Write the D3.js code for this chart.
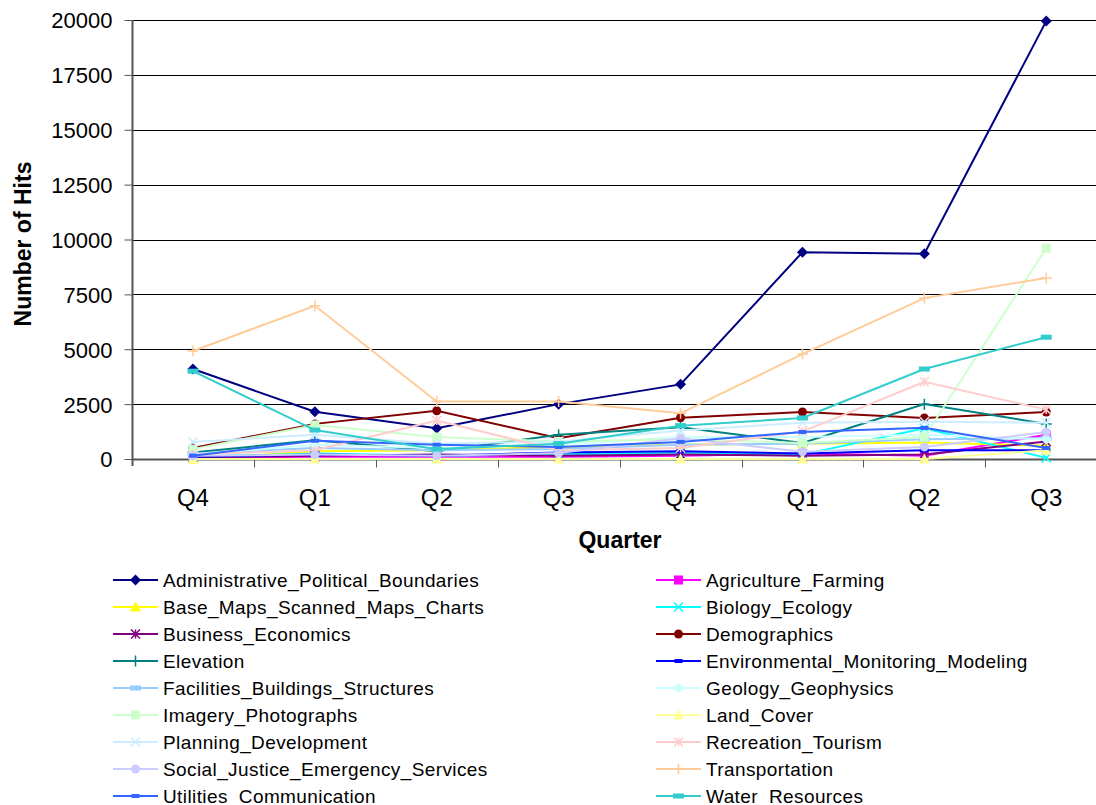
<!DOCTYPE html>
<html><head><meta charset="utf-8">
<script src="https://cdn.jsdelivr.net/npm/d3@7/dist/d3.min.js"></script>
<style>
html,body{margin:0;padding:0;background:#fff;overflow:hidden;}
svg{display:block;font-family:"Liberation Sans",Arial,sans-serif;}
</style></head>
<body>
<svg id="chart" width="1096" height="805"></svg>
<script>
const quarters = ["Q4","Q1","Q2","Q3","Q4","Q1","Q2","Q3"];
const yTicks = [0,2500,5000,7500,10000,12500,15000,17500,20000];

const seriesNames = [
  "Administrative_Political_Boundaries","Agriculture_Farming","Base_Maps_Scanned_Maps_Charts",
  "Biology_Ecology","Business_Economics","Demographics","Elevation",
  "Environmental_Monitoring_Modeling","Facilities_Buildings_Structures","Geology_Geophysics",
  "Imagery_Photographs","Land_Cover","Planning_Development","Recreation_Tourism",
  "Social_Justice_Emergency_Services","Transportation","Utilities_Communication","Water_Resources"
];

const admin         = [4100, 2150, 1400, 2500, 3400, 9420, 9350, 19950];
const agriculture   = [50, 100, 100, 100, 150, 250, 150, 1100];
const baseMaps      = [0, 350, 400, 550, 650, 700, 750, 600];
const biology       = [100, 250, 150, 200, 300, 200, 1400, 50];
const business      = [50, 150, 200, 150, 200, 150, 200, 800];
const demographics  = [500, 1600, 2200, 950, 1880, 2140, 1870, 2140];
const elevation     = [300, 850, 350, 1100, 1450, 730, 2500, 1600];
const environmental = [100, 200, 150, 300, 350, 250, 400, 400];
const facilities    = [250, 500, 400, 450, 650, 700, 900, 950];
const geology       = [200, 650, 500, 650, 1000, 1000, 1100, 900];
const imagery       = [450, 1550, 1000, 800, 900, 730, 1000, 9600];
const landCover     = [0, 0, 0, 0, 0, 0, 0, 400];
const planning      = [780, 1100, 700, 800, 1300, 1650, 1700, 1650];
const recreation    = [200, 400, 1750, 400, 500, 1250, 3520, 2250];
const social        = [150, 200, 150, 270, 950, 330, 550, 1230];
const transport     = [4920, 6980, 2620, 2620, 2080, 4780, 7330, 8250];
const utilities     = [150, 830, 650, 550, 780, 1230, 1420, 500];
const water         = [4000, 1320, 450, 700, 1520, 1870, 4100, 5550];

const seriesValues = [admin, agriculture, baseMaps, biology, business, demographics, elevation,
  environmental, facilities, geology, imagery, landCover, planning, recreation, social,
  transport, utilities, water];

const colors = ["#000080","#FF00FF","#FFFF00","#00FFFF","#800080","#800000","#008080",
  "#0000FF","#99CCFF","#CCFFFF","#CCFFCC","#FFFF99","#CCECFF","#FFCCCC","#CCCCFF",
  "#FFCC99","#3366FF","#33CCCC"];
const markers = ["diamond","square","triangle","x","star","circle","plus","dash",
  "longdash","diamond","square","triangle","x","star","circle","plus","dash","longdash"];

const svg = d3.select("#chart");
const plotLeft = 132, plotTop = 20, plotBottom = 459, bandW = 121.9;
const x = d3.scaleBand().domain(d3.range(quarters.length)).range([plotLeft, plotLeft + bandW*quarters.length]);
const y = d3.scaleLinear().domain([0,20000]).range([plotBottom, plotTop]);

// gridlines
svg.append("g").selectAll("line").data(yTicks.filter(d=>d>0)).join("line")
  .attr("x1", plotLeft).attr("x2", 1096)
  .attr("y1", d=>Math.round(y(d))+0.5).attr("y2", d=>Math.round(y(d))+0.5)
  .attr("stroke", "#000").attr("stroke-width", 1);

// y axis
const yAx = svg.append("g").attr("transform", `translate(${plotLeft+0.5},0)`)
  .call(d3.axisLeft(y).tickValues(yTicks).tickSize(8).tickPadding(6).tickFormat(d3.format("d")));
yAx.select(".domain").attr("stroke","#555").attr("stroke-width",2).attr("d", `M0,${plotTop}V${plotBottom+7}`);
yAx.selectAll(".tick line").attr("stroke","#555");
yAx.selectAll(".tick text").attr("font-size", 22).attr("fill","#000")
  .attr("font-family","'Liberation Sans',Arial,sans-serif").attr("x", -20).attr("dy","0.36em");

// x axis
const xAx = svg.append("g").attr("transform", `translate(0,${plotBottom+0.5})`);
xAx.append("line").attr("x1", plotLeft).attr("x2", 1096).attr("stroke","#555").attr("stroke-width",2);
xAx.selectAll("line.tk").data(d3.range(1, quarters.length)).join("line").attr("class","tk")
  .attr("x1", i=>Math.round(x(i))+0.5).attr("x2", i=>Math.round(x(i))+0.5)
  .attr("y1", 0).attr("y2", 8).attr("stroke","#555");
xAx.selectAll("text").data(quarters).join("text")
  .attr("x", (d,i)=>x(i)+x.bandwidth()/2).attr("y", 46)
  .attr("text-anchor","middle").attr("font-size", 24).text(d=>d);

// axis titles
svg.append("text").attr("x", 620).attr("y", 548).attr("text-anchor","middle")
  .attr("font-size", 23).attr("font-weight","bold").text("Quarter");
svg.append("text").attr("transform","translate(31,244) rotate(-90)").attr("text-anchor","middle")
  .attr("font-size", 23).attr("font-weight","bold").text("Number of Hits");

function drawMarker(g, type, color, s) {
  const h = s/2;
  switch(type) {
    case "diamond": g.append("path").attr("d",`M0,${-h-1}L${h+1},0L0,${h+1}L${-h-1},0Z`).attr("fill",color); break;
    case "square": g.append("rect").attr("x",-h).attr("y",-h).attr("width",s).attr("height",s).attr("fill",color); break;
    case "triangle": g.append("path").attr("d",`M0,${-h-1}L${h+1},${h}L${-h-1},${h}Z`).attr("fill",color); break;
    case "circle": g.append("circle").attr("r",h).attr("fill",color); break;
    case "x": g.append("path").attr("d",`M${-h},${-h}L${h},${h}M${-h},${h}L${h},${-h}`).attr("stroke",color).attr("stroke-width",1.5); break;
    case "star": g.append("path").attr("d",`M${-h},${-h}L${h},${h}M${-h},${h}L${h},${-h}M0,${-h}V${h}`).attr("stroke",color).attr("stroke-width",1.5); break;
    case "plus": g.append("path").attr("d",`M${-h-1},0H${h+1}M0,${-h-1}V${h+1}`).attr("stroke",color).attr("stroke-width",1.5); break;
    case "dash": g.append("rect").attr("x",-4).attr("y",-2).attr("width",8).attr("height",4).attr("fill",color); break;
    case "longdash": g.append("rect").attr("x",-h-1).attr("y",-2.5).attr("width",s+2).attr("height",5).attr("fill",color); break;
  }
}

const line = d3.line().x((d,i)=>x(i)+x.bandwidth()/2).y(d=>y(d));
const plot = svg.append("g");
seriesValues.forEach((vals, si) => {
  const g = plot.append("g");
  g.append("path").datum(vals).attr("d", line).attr("fill","none")
    .attr("stroke", colors[si]).attr("stroke-width", 2);
  vals.forEach((v,i) => {
    const mg = g.append("g").attr("transform",`translate(${x(i)+x.bandwidth()/2},${y(v)})`);
    drawMarker(mg, markers[si], colors[si], 9);
  });
});

// legend
const leg = svg.append("g");
seriesNames.forEach((name, si) => {
  const col = si % 2, row = Math.floor(si/2);
  const lx = col === 0 ? 113 : 656;
  const ly = 580 + row*27;
  const g = leg.append("g").attr("transform",`translate(${lx},${ly})`);
  g.append("line").attr("x1",0).attr("x2",45).attr("y1",0).attr("y2",0)
    .attr("stroke",colors[si]).attr("stroke-width",2);
  const mg = g.append("g").attr("transform","translate(22.5,0)");
  drawMarker(mg, markers[si], colors[si], 9);
  g.append("text").attr("x",50).attr("y",7).attr("font-size",19)
    .attr("letter-spacing","0.4px").text(name);
});
</script>
</body></html>
